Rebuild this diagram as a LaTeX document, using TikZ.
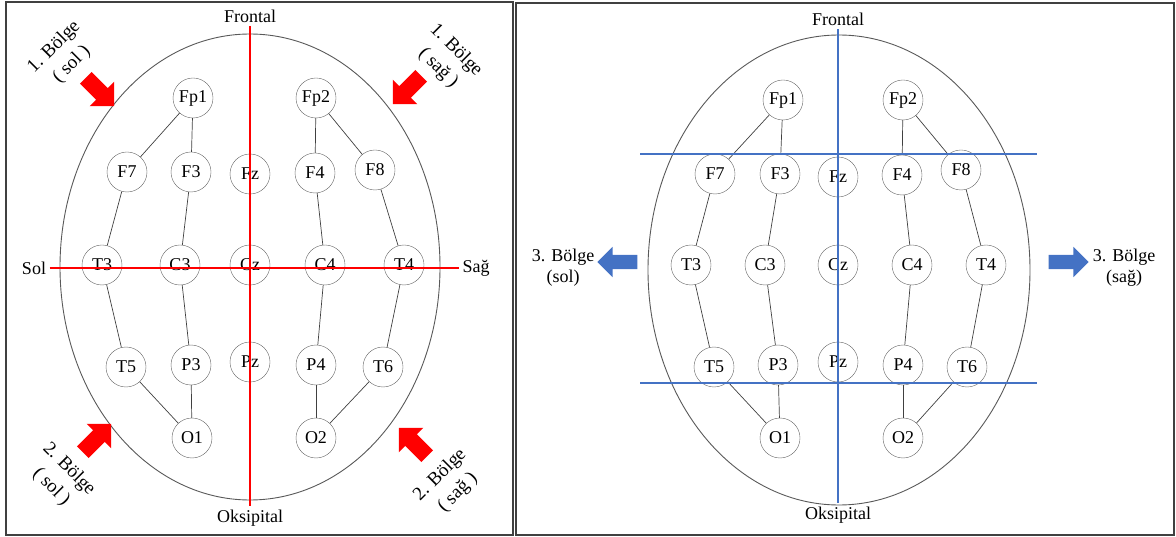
\documentclass[tikz,border=0pt]{standalone}
\usepackage{fontspec}
\setmainfont{Liberation Serif}
\usepackage{xcolor}
\usetikzlibrary{shapes.arrows, positioning}

\definecolor{zoneblue}{RGB}{68,114,196}

\begin{document}
\begin{tikzpicture}[
    x=1pt, y=-1pt,
    font=\fontsize{18}{21}\selectfont,
    elec/.style={circle, draw=black!60, fill=white, minimum size=40pt, inner sep=0pt},
    wire/.style={draw=black!75, line width=0.7pt},
    head/.style={draw=black!65, line width=0.9pt},
    panel/.style={draw=black!75, line width=1.2pt},
    redline/.style={draw=red, line width=2pt},
    blueline/.style={draw=zoneblue, line width=1.6pt},
    redarrow/.style={single arrow, fill=red, inner sep=8pt, minimum height=40pt,
                     single arrow head extend=9pt, single arrow head indent=0pt},
    bluearrow/.style={single arrow, fill=zoneblue, inner sep=7pt, minimum height=40pt,
                      single arrow head extend=8pt},
    zone/.style={align=center, inner sep=1pt, font=\fontsize{19}{25}\selectfont}
]
\useasboundingbox (0,0) rectangle (1176,537);

% Panels
\draw[panel] (6,2) rectangle (513,535);
\draw[panel] (516,3) rectangle (1174,535);

% Heads
\draw[head] (250,267) ellipse [x radius=190pt, y radius=233pt];
\draw[head] (839,270) ellipse [x radius=191pt, y radius=235pt];

% Electrodes
\foreach \n/\x/\y in {Fp1/193/98, Fp2/316/98, F7/127/172, F3/191/172, Fz/250/174,
    F4/315/173, F8/375/170, T3/102/265, C3/180/265, Cz/250/265, C4/325/265,
    T4/404/265, T5/126/367, P3/191/365, Pz/250/362, P4/316/365, T6/383/367,
    O1/192/438, O2/316/438}
  \node[elec] (l\n) at (\x,\y) {\n};
\foreach \n/\x/\y in {Fp1/783/100, Fp2/903/100, F7/715/174, F3/780/174, Fz/838/177,
    F4/902/175, F8/961/170, T3/691/265, C3/765/265, Cz/838/265, C4/912/265,
    T4/986/265, T5/714/367, P3/778/365, Pz/838/362, P4/903/365, T6/967/367,
    O1/780/438, O2/903/438}
  \node[elec] (r\n) at (\x,\y) {\n};

% Chains
\foreach \p in {l,r}
  \foreach \a/\b in {Fp1/F7, Fp1/F3, F7/T3, F3/C3, T3/T5, C3/P3, T5/O1, P3/O1,
      Fp2/F4, Fp2/F8, F4/C4, F8/T4, C4/P4, T4/T6, P4/O2, T6/O2}
    \draw[wire] (\p\a) -- (\p\b);

% Left labels
\node (lfront) at (250,16) {Frontal};
\node (loksi) at (250,518) {Oksipital};
\node (lsol) at (34,268) {Sol};
\node (lsag) at (476,268) {Sağ};
\draw[redline] (lfront.south) -- (loksi.north);
\draw[redline] (lsol.east) -- (lsag.west);

\node[zone, rotate=45] (z1l) at (63,56) {1. Bölge\\( sol )};
\node[zone, rotate=-45] (z1r) at (447,59) {1. Bölge\\( sağ )};
\node[zone, rotate=-45] (z2l) at (60,478) {2. Bölge\\( sol )};
\node[zone, rotate=45] (z2r) at (449,484) {2. Bölge\\( sağ )};

\node[redarrow, rotate=-45] (a1l) at (97,89) {};
\node[redarrow, rotate=-135] (a1r) at (410,87) {};
\node[redarrow, rotate=45] (a2l) at (94,441) {};
\node[redarrow, rotate=135] (a2r) at (416,445) {};

% Right labels
\node (rfront) at (838,19) {Frontal};
\node (roksi) at (838,515) {Oksipital};
\draw[blueline] (rfront.south) -- (roksi.north);
\coordinate (b1w) at (640,154); \coordinate (b1e) at (1037,154);
\coordinate (b2w) at (640,383); \coordinate (b2e) at (1037,383);
\draw[blueline] (b1w) -- (b1e);
\draw[blueline] (b2w) -- (b2e);

\node[zone, font=\fontsize{18}{21}\selectfont] (z3l) at (563,268) {3. Bölge\\(sol)};
\node[zone, font=\fontsize{18}{21}\selectfont] (z3r) at (1124,268) {3. Bölge\\(sağ)};
\node[bluearrow, rotate=180] (a3l) at (621,262) {};
\node[bluearrow] (a3r) at (1065,262) {};

\end{tikzpicture}
\end{document}
